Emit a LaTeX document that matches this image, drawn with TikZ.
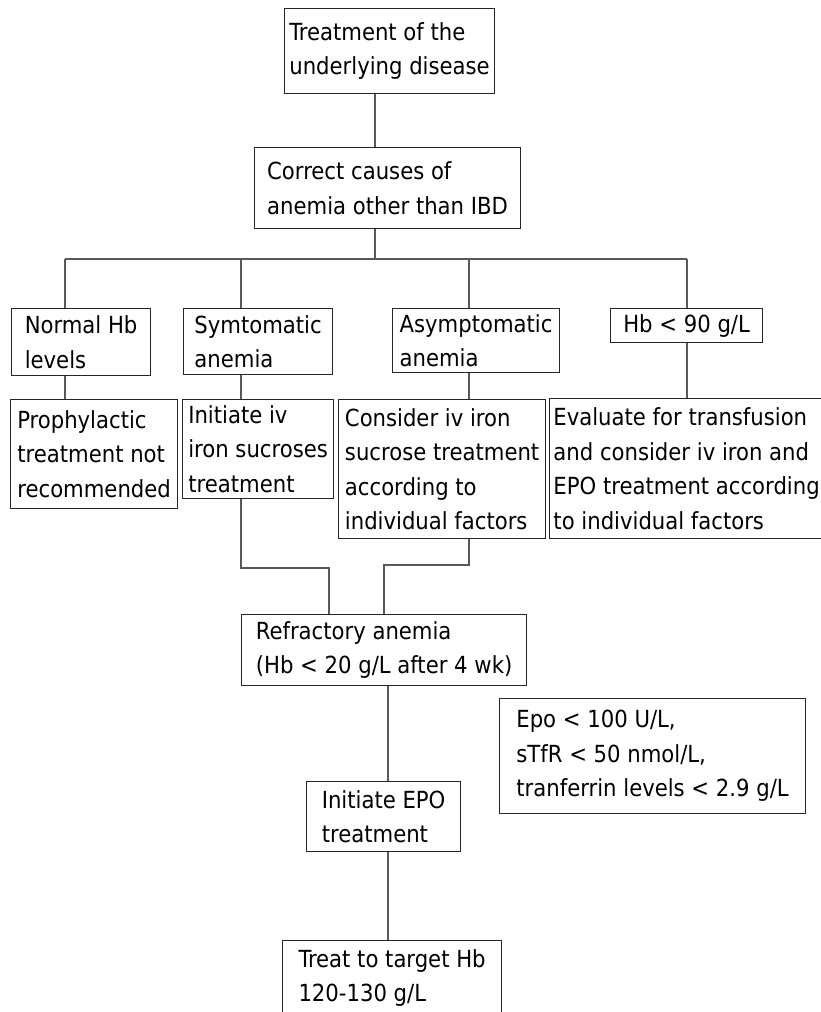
\documentclass[tikz,border=0pt]{standalone}
\usepackage{fontspec}
\setmainfont{DejaVu Sans Condensed}
\usetikzlibrary{positioning}

\tikzset{
  box/.style={draw=black!85, line width=0.7pt, anchor=north west, align=left, inner sep=0pt,
    font=\fontsize{13.4}{19.6}\selectfont},
  link/.style={draw=black!65, line width=0.6pt},
}

\begin{document}
\begin{tikzpicture}[x=0.02cm, y=-0.02cm]
        \useasboundingbox (0,0) rectangle (821,1012); % page, in pixel units

        % upper boxes
        \node[box, minimum width=4.2cm, minimum height=1.7cm] (treat) at (284,8) {Treatment of the\\underlying disease};
        \node[box, minimum width=5.32cm, minimum height=1.62cm] (causes) at (254,147) {Correct causes of\\anemia other than IBD};

        % first row
        \node[box, minimum width=2.78cm, minimum height=1.34cm] (normal) at (11,308) {Normal Hb\\levels};
        \node[box, minimum width=2.98cm, minimum height=1.32cm] (sympt) at (183,308) {Symtomatic\\anemia};
        \node[box, minimum width=3.34cm, minimum height=1.28cm] (asympt) at (392,308) {Asymptomatic\\anemia};
        \node[box, minimum width=3.04cm, minimum height=0.68cm] (hblow) at (610,308) {Hb < 90 g/L};

        % second row
        \node[box, minimum width=3.34cm, minimum height=2.18cm] (proph) at (10,399) {Prophylactic\\treatment not\\recommended};
        \node[box, minimum width=3.02cm, minimum height=1.98cm] (ivinit) at (182,399) {Initiate iv\\iron sucroses\\treatment};
        \node[box, minimum width=4.14cm, minimum height=2.78cm] (ivcons) at (338,399) {Consider iv iron\\sucrose treatment\\according to\\individual factors};
        \node[box, minimum width=5.48cm, minimum height=2.8cm] (evalu) at (549,398) {Evaluate for transfusion\\and consider iv iron and\\EPO treatment according\\to individual factors};

        % lower boxes
        \node[box, minimum width=5.7cm, minimum height=1.42cm] (refract) at (241,614) {Refractory anemia\\(Hb < 20 g/L after 4 wk)};
        \node[box, minimum width=6.12cm, minimum height=2.3cm] (criteria) at (499,698) {Epo < 100 U/L,\\sTfR < 50 nmol/L,\\tranferrin levels < 2.9 g/L};
        \node[box, minimum width=3.08cm, minimum height=1.4cm] (epoinit) at (306,781) {Initiate EPO\\treatment};
        \node[box, minimum width=4.38cm, minimum height=1.5cm] (target) at (282,940) {Treat to target Hb\\120-130 g/L};

        % points on the lines
        \coordinate (trunk) at (375,259);
        \coordinate (d1) at (65,259);
        \coordinate (d2) at (241,259);
        \coordinate (d3) at (469,259);
        \coordinate (d4) at (687,259);
        \coordinate (j1) at (329,568);
        \coordinate (j2) at (384,565);
        \coordinate (spine) at (388,700);

        \draw[link] (treat.south -| trunk) -- (causes.north -| trunk); % top stem
        \draw[link] (causes.south -| trunk) -- (trunk); % down to the branch line
        \draw[link] (d1) -- (d4); % branch line

        \draw[link] (d1) -- (normal.north -| d1);
        \draw[link] (d2) -- (sympt.north -| d2);
        \draw[link] (d3) -- (asympt.north -| d3);
        \draw[link] (d4) -- (hblow.north -| d4);

        \draw[link] (normal.south -| d1) -- (proph.north -| d1);
        \draw[link] (sympt.south -| d2) -- (ivinit.north -| d2);
        \draw[link] (asympt.south -| d3) -- (ivcons.north -| d3);
        \draw[link] (hblow.south -| d4) -- (evalu.north -| d4);

        \draw[link] (ivinit.south -| d2) |- (j1) -- (refract.north -| j1); % join into refractory
        \draw[link] (ivcons.south -| d3) |- (j2) -- (refract.north -| j2);

        \draw[link] (refract.south -| spine) -- (epoinit.north -| spine);
        \draw[link] (epoinit.south -| spine) -- (target.north -| spine);
\end{tikzpicture}
\end{document}
